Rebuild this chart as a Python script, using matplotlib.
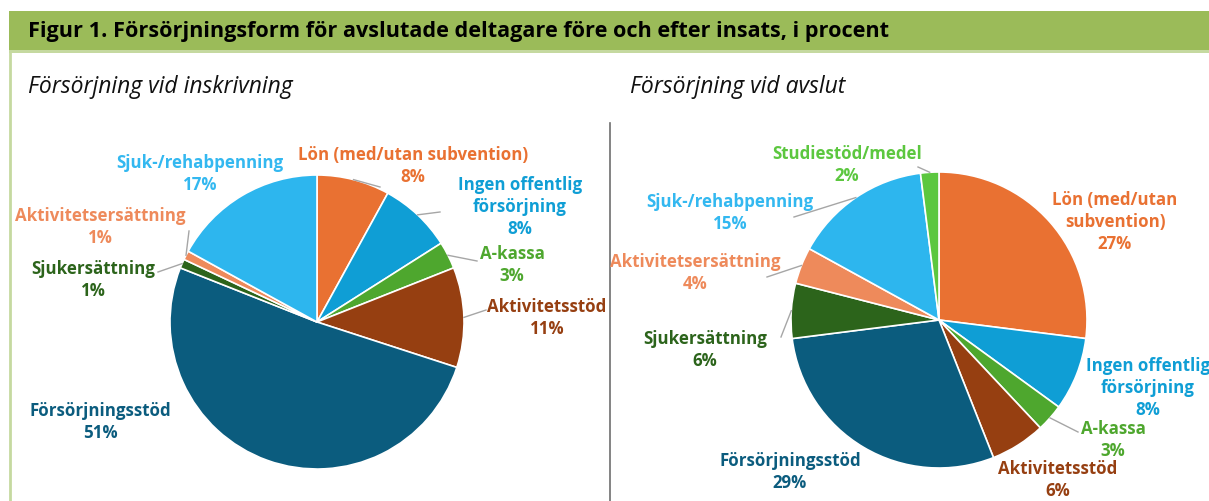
import numpy as np
import matplotlib
matplotlib.use("Agg")
import matplotlib.pyplot as plt
from matplotlib.patches import Rectangle

# data
labels_in = ["Lön (med/utan subvention)", "Ingen offentlig\nförsörjning", "A-kassa",
             "Aktivitetsstöd", "Försörjningsstöd", "Sjukersättning",
             "Aktivitetsersättning", "Sjuk-/rehabpenning"]
values_in = [8, 8, 3, 11, 51, 1, 1, 17]

labels_out = ["Lön (med/utan\nsubvention)", "Ingen offentlig\nförsörjning", "A-kassa",
              "Aktivitetsstöd", "Försörjningsstöd", "Sjukersättning",
              "Aktivitetsersättning", "Sjuk-/rehabpenning", "Studiestöd/medel"]
values_out = [27, 8, 3, 6, 29, 6, 4, 15, 2]

title = "Figur 1. Försörjningsform för avslutade deltagare före och efter insats, i procent"
sub_in = "Försörjning vid inskrivning"
sub_out = "Försörjning vid avslut"

# farger per kategori
col = {"Lön": "#E97132", "Ingen": "#0F9ED5", "A-kassa": "#4EA72E",
       "Aktivitetsstöd": "#963F11", "Försörjningsstöd": "#0B5C7E",
       "Sjukersättning": "#2C641B", "Aktivitetsersättning": "#EE8A5B",
       "Sjuk-": "#2DB6EE", "Studiestöd": "#5CC73F"}
txtcol = dict(col)
txtcol["Sjuk-"] = "#33B8F0"


def getcol(lab, d):
    for k in d:
        if lab.startswith(k):
            return d[k]
    return "k"


W, H = 1209, 502
fig = plt.figure(figsize=(W / 100, H / 100), dpi=100)
ax = fig.add_axes([0, 0, 1, 1])
ax.set_xlim(0, W)
ax.set_ylim(0, H)
ax.axis("off")

# rubrikband
ax.add_patch(Rectangle((9, H - 51), W, 39, color="#9BBB59", lw=0))
ax.add_patch(Rectangle((9, H - 54), W, 3, color="#C5D9A0", lw=0))
ax.plot([10, 10], [0, H - 54], color="#C5D9A0", lw=2)
ax.plot([610, 610], [0, H - 124], color="#6E6E6E", lw=1.2)

ax.text(28, H - 32, title, fontsize=15.6, fontweight="bold", family=["Open Sans", "DejaVu Sans"],
        va="center", ha="left", color="black")
ax.text(28, H - 87, sub_in, fontsize=16.5, style="italic", family=["Open Sans", "DejaVu Sans"],
        va="center", ha="left", color="#111111")
ax.text(630, H - 87, sub_out, fontsize=16.5, style="italic", family=["Open Sans", "DejaVu Sans"],
        va="center", ha="left", color="#111111")


def draw_pie(values, labels, center, r, label_pos, leaders):
    cx, cy = center
    wedges, _ = ax.pie(values, colors=[getcol(l, col) for l in labels], startangle=90,
                       counterclock=False, center=(cx, cy), radius=r,
                       wedgeprops=dict(edgecolor="white", linewidth=1.2), frame=True)
    for w, lab, v, pos in zip(wedges, labels, values, label_pos):
        ax.text(pos[0], H - pos[1], f"{lab}\n{v}%", ha="center", va="center",
                fontsize=12.2, fontweight="bold", family=["Open Sans", "DejaVu Sans"],
                color=getcol(lab, txtcol), linespacing=1.3)
    for i, end in leaders.items():
        w = wedges[i]
        a = np.deg2rad((w.theta1 + w.theta2) / 2)
        p = (cx + r * np.cos(a), cy + r * np.sin(a))
        ax.plot([p[0], end[0]], [p[1], H - end[1]], color="#A6A6A6", lw=1)


# labelpositioner i pixlar (x, y uppifran)
pos_in = [(413, 166), (520, 207), (512, 265), (547, 318), (100, 422),
          (93, 280), (100, 227), (200, 174)]
lead_in = {0: (380, 188), 1: (440, 213), 2: (477, 262), 3: (486, 311),
           5: (158, 273), 6: (189, 232)}
draw_pie(values_in, labels_in, (317, H - 323), 147, pos_in, lead_in)

pos_out = [(1115, 222), (1148, 388), (1113, 440), (1058, 480), (790, 472),
           (705, 350), (695, 273), (730, 213), (847, 165)]
lead_out = {2: (1078, 433), 5: (781, 338), 6: (767, 278), 7: (794, 218), 8: (918, 168)}
draw_pie(values_out, labels_out, (939, H - 321), 148, pos_out, lead_out)

ax.set_xlim(0, W)
ax.set_ylim(0, H)
ax.set_aspect("auto")
ax.axis("off")

fig.savefig("out.png", dpi=100)
